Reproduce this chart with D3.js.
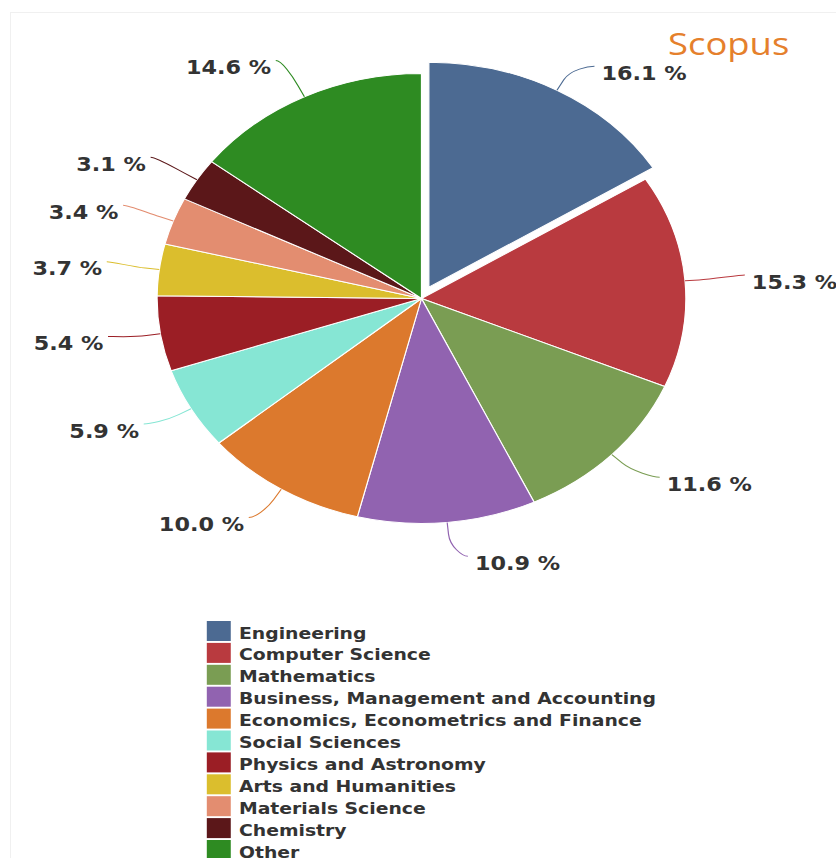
<!DOCTYPE html>
<html>
<head>
<meta charset="utf-8">
<script src="https://cdn.jsdelivr.net/npm/d3@7"></script>
<style>
  body { margin: 0; background: #fff; }
</style>
</head>
<body>
<div id="chart"></div>
<script>
const categories = [
    'Engineering',
    'Computer Science',
    'Mathematics',
    'Business, Management and Accounting',
    'Economics, Econometrics and Finance',
    'Social Sciences',
    'Physics and Astronomy',
    'Arts and Humanities',
    'Materials Science',
    'Chemistry',
    'Other'
]
const shares = [16.1, 15.3, 11.6, 10.9, 10.0, 5.9, 5.4, 3.7, 3.4, 3.1, 14.6]
const colors = ['#4c6a92', '#b93a3f', '#7a9d53', '#9163b0', '#dc792d', '#86e6d4',
    '#9b1e25', '#dbbe2d', '#e38d70', '#5b1719', '#2e8b22']
const slicedCategory = 'Engineering'
const title = 'Scopus'

function draw() {
    let dimensions = {
        width: 836,
        height: 858,
        // the source picture is stretched sideways
        stretch: 1.175,
        cx: 358.7,
        cy: 298.5,
        radius: 225,
        slicedOffset: 13
    }

    const data = categories.map((name, i) => ({ name, value: shares[i], color: colors[i] }))

    const svg = d3.select('#chart')
        .append('svg')
        .attr('width', dimensions.width)
        .attr('height', dimensions.height)

    // faint frame around the chart
    svg.append('rect')
        .attr('x', 10.5)
        .attr('y', 12.5)
        .attr('width', 840)
        .attr('height', 860)
        .attr('fill', 'none')
        .attr('stroke', '#f0f0f0')

    const ctr = svg.append('g')
        .attr('transform', `scale(${dimensions.stretch}, 1)`)

    const pie = d3.pie().sort(null).value(d => d.value)
    const arcs = pie(data)

    const arc = d3.arc().innerRadius(0).outerRadius(dimensions.radius)

    const offsetOf = d => {
        if (d.data.name !== slicedCategory) return [0, 0]
        const a = (d.startAngle + d.endAngle) / 2
        return [Math.sin(a) * dimensions.slicedOffset, -Math.cos(a) * dimensions.slicedOffset]
    }

    const pieG = ctr.append('g')
        .attr('transform', `translate(${dimensions.cx}, ${dimensions.cy})`)

    pieG.selectAll('path.slice')
        .data(arcs)
        .join('path')
        .attr('class', 'slice')
        .attr('d', arc)
        .attr('transform', d => `translate(${offsetOf(d)})`)
        .attr('fill', d => d.data.color)
        .attr('stroke', '#fff')
        .attr('stroke-width', 1)
        .attr('stroke-linejoin', 'round')

    // labels with soft connectors
    const labelRadius = 262
    const breakRadius = dimensions.radius + 12
    const labels = arcs.map(d => {
        const a = (d.startAngle + d.endAngle) / 2
        const [ox, oy] = offsetOf(d)
        const left = Math.sin(a) < 0
        const ax = Math.sin(a) * labelRadius + ox + (left ? -8 : 14)
        const ay = -Math.cos(a) * labelRadius - 3
        return {
            d, left,
            ax, ay,
            bx: Math.sin(a) * breakRadius + ox,
            by: -Math.cos(a) * breakRadius + oy,
            tx: Math.sin(a) * dimensions.radius + ox,
            ty: -Math.cos(a) * dimensions.radius + oy
        }
    })

    pieG.selectAll('path.connector')
        .data(labels)
        .join('path')
        .attr('class', 'connector')
        .attr('d', l => {
            const p = d3.path()
            p.moveTo(l.ax, l.ay)
            p.bezierCurveTo(l.ax + (l.left ? 5 : -5), l.ay,
                2 * l.bx - l.tx, 2 * l.by - l.ty, l.bx, l.by)
            p.lineTo(l.tx, l.ty)
            return p.toString()
        })
        .attr('fill', 'none')
        .attr('stroke', l => l.d.data.color)
        .attr('stroke-width', 1)

    pieG.selectAll('text.label')
        .data(labels)
        .join('text')
        .attr('class', 'label')
        .attr('x', l => l.ax + (l.left ? -4 : 6))
        .attr('y', l => l.ay + 7)
        .attr('dy', '0.35em')
        .attr('text-anchor', l => l.left ? 'end' : 'start')
        .attr('font-family', 'DejaVu Sans')
        .attr('font-weight', 'bold')
        .attr('font-size', 19)
        .attr('fill', '#333')
        .text(l => `${l.d.data.value.toFixed(1)} %`)

    // title in the top right corner
    ctr.append('text')
        .attr('x', 568.5)
        .attr('y', 55)
        .attr('font-family', 'Open Sans')
        .attr('font-size', 31)
        .attr('fill', '#e5802c')
        .text(title)

    // legend
    const legendStep = 21.9
    const legend = ctr.append('g')
        .attr('transform', `translate(176, 621)`)

    const rows = legend.selectAll('g')
        .data(data)
        .join('g')
        .attr('transform', (d, i) => `translate(0, ${i * legendStep})`)

    rows.append('rect')
        .attr('width', 20.4)
        .attr('height', 20)
        .attr('fill', d => d.color)

    rows.append('text')
        .attr('x', 27.4)
        .attr('y', 12)
        .attr('dy', '0.35em')
        .attr('font-family', 'DejaVu Sans')
        .attr('font-weight', 'bold')
        .attr('font-size', 16)
        .attr('fill', '#333')
        .text(d => d.name)
}

draw()
</script>
</body>
</html>
